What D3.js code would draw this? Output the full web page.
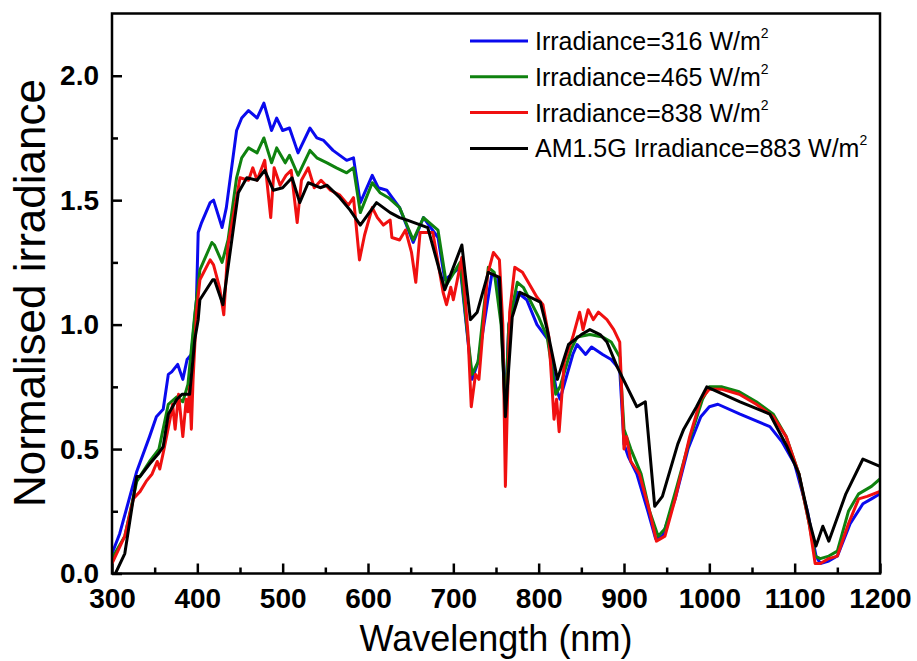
<!DOCTYPE html>
<html>
<head>
<meta charset="utf-8">
<script src="https://cdn.jsdelivr.net/npm/d3@7"></script>
<style>
    body { margin: 0; background: #fff; }
    svg { display: block; font-family: "Liberation Sans", Arial, sans-serif; }
</style>
</head>
<body>
<div id="chart"></div>
<script>
// wavelength (nm), normalised irradiance
let irr316 = [
    [300,0.08],[309,0.16],[329,0.41],[344,0.55],[352,0.63],[360,0.66],[366,0.80],[370,0.81],[377,0.84],
    [383,0.78],[388,0.86],[393,0.88],[399,1.10],[401,1.37],[405,1.41],[415,1.49],[419,1.50],[429,1.39],
    [434,1.47],[446,1.78],[452,1.83],[460,1.86],[470,1.83],[478,1.89],[487,1.78],[493,1.83],[500,1.78],
    [508,1.79],[518,1.69],[532,1.79],[540,1.75],[548,1.74],[559,1.70],[575,1.66],[583,1.67],[591,1.49],
    [605,1.60],[612,1.55],[622,1.54],[637,1.47],[653,1.33],[665,1.43],[682,1.35],[690,1.18],[708,1.23],
    [717,0.94],[722,0.78],[729,0.85],[745,1.20],[752,1.19],[757,1.00],[761,0.65],[765,1.00],[775,1.13],
    [786,1.10],[798,1.00],[811,0.94],[820,0.75],[825,0.70],[840,0.88],[845,0.92],[855,0.88],[862,0.91],
    [875,0.88],[885,0.86],[895,0.82],[900,0.52],[905,0.47],[915,0.40],[928,0.25],[937,0.14],[945,0.15],
    [960,0.30],[975,0.50],[990,0.63],[1000,0.67],[1010,0.68],[1036,0.64],[1071,0.59],[1085,0.53],
    [1100,0.44],[1115,0.25],[1125,0.07],[1130,0.04],[1140,0.05],[1150,0.07],[1165,0.20],[1180,0.28],
    [1190,0.30],[1200,0.32]
];

let irr465 = [
    [300,0.06],[315,0.15],[329,0.37],[344,0.45],[355,0.50],[366,0.68],[376,0.71],[383,0.69],[389,0.76],
    [397,1.04],[403,1.22],[417,1.33],[420,1.32],[429,1.25],[436,1.34],[446,1.59],[452,1.67],[460,1.71],
    [470,1.69],[478,1.75],[487,1.65],[493,1.71],[503,1.65],[508,1.68],[518,1.60],[532,1.70],[540,1.67],
    [552,1.65],[563,1.63],[575,1.61],[583,1.63],[591,1.45],[605,1.57],[614,1.53],[624,1.51],[637,1.47],
    [653,1.34],[665,1.43],[682,1.38],[692,1.16],[708,1.25],[717,0.95],[722,0.80],[729,0.85],[741,1.23],
    [748,1.21],[756,1.00],[761,0.65],[765,1.00],[775,1.17],[782,1.15],[800,1.03],[810,0.95],[820,0.72],
    [825,0.75],[838,0.90],[845,0.95],[860,0.96],[875,0.95],[885,0.93],[895,0.87],[900,0.58],[908,0.50],
    [920,0.40],[930,0.25],[940,0.15],[948,0.18],[962,0.35],[978,0.55],[992,0.70],[1000,0.75],[1015,0.75],
    [1035,0.73],[1055,0.69],[1075,0.64],[1090,0.55],[1105,0.40],[1117,0.20],[1124,0.07],[1130,0.06],
    [1140,0.07],[1150,0.09],[1163,0.25],[1175,0.32],[1180,0.33],[1190,0.35],[1200,0.38]
];

let irr838 = [
    [300,0.04],[315,0.15],[325,0.30],[333,0.33],[340,0.37],[347,0.40],[353,0.45],[356,0.42],[361,0.50],
    [368,0.62],[371,0.68],[374,0.58],[378,0.72],[383,0.55],[387,0.70],[389,0.65],[391,0.75],[393,0.58],
    [395,0.78],[399,1.05],[403,1.18],[415,1.26],[419,1.24],[426,1.15],[431,1.04],[436,1.32],[446,1.51],
    [450,1.59],[460,1.58],[465,1.63],[470,1.58],[479,1.66],[486,1.43],[490,1.63],[497,1.56],[504,1.60],
    [510,1.62],[517,1.41],[522,1.58],[530,1.63],[537,1.55],[545,1.58],[556,1.54],[567,1.52],[577,1.48],
    [583,1.51],[590,1.26],[596,1.36],[605,1.47],[611,1.43],[618,1.40],[626,1.42],[628,1.35],[637,1.34],
    [644,1.38],[651,1.29],[656,1.17],[661,1.37],[676,1.37],[688,1.13],[692,1.08],[697,1.15],[700,1.10],
    [710,1.27],[717,0.97],[721,0.67],[726,0.80],[730,0.78],[740,1.20],[747,1.29],[754,1.26],[758,1.00],
    [761,0.35],[766,1.05],[772,1.23],[781,1.21],[798,1.11],[805,1.08],[812,0.95],[818,0.62],[821,0.70],
    [824,0.57],[830,0.85],[840,0.95],[848,1.05],[852,0.98],[858,1.06],[864,1.02],[870,1.05],[880,1.02],
    [888,0.98],[895,0.93],[900,0.50],[903,0.55],[908,0.45],[918,0.40],[930,0.25],[938,0.13],[948,0.15],
    [960,0.30],[977,0.55],[990,0.70],[1000,0.74],[1015,0.74],[1035,0.72],[1055,0.68],[1075,0.63],
    [1090,0.55],[1105,0.40],[1117,0.20],[1124,0.04],[1130,0.04],[1140,0.06],[1150,0.07],[1163,0.20],
    [1175,0.30],[1185,0.31],[1200,0.33]
];

let am15g = [
    [304,0.00],[315,0.08],[329,0.39],[333,0.39],[344,0.44],[354,0.48],[360,0.51],[366,0.64],[376,0.70],
    [382,0.72],[391,0.72],[397,0.94],[401,1.02],[403,1.10],[418,1.18],[420,1.18],[430,1.08],[448,1.53],
    [458,1.59],[470,1.58],[479,1.62],[489,1.54],[500,1.55],[511,1.59],[520,1.49],[530,1.57],[544,1.55],
    [552,1.56],[567,1.51],[579,1.46],[591,1.40],[610,1.49],[626,1.45],[637,1.43],[646,1.42],[670,1.39],
    [690,1.14],[710,1.32],[720,1.02],[728,1.05],[741,1.21],[754,1.19],[761,0.63],[769,1.03],[778,1.13],
    [802,1.09],[810,0.98],[822,0.78],[835,0.92],[850,0.96],[860,0.98],[872,0.96],[880,0.93],[892,0.83],
    [915,0.67],[925,0.69],[936,0.27],[945,0.31],[963,0.52],[970,0.58],[985,0.67],[997,0.75],[1036,0.69],
    [1071,0.64],[1091,0.51],[1105,0.40],[1118,0.20],[1125,0.11],[1133,0.19],[1140,0.13],[1160,0.32],
    [1180,0.46],[1200,0.43]
];

let seriesNames = ['Irradiance=316 W/m', 'Irradiance=465 W/m', 'Irradiance=838 W/m', 'AM1.5G Irradiance=883 W/m'];
let seriesColors = ['#0a0aee', '#0f820f', '#f01010', '#000000'];
let seriesData = [irr316, irr465, irr838, am15g];

let xMajorTicks = [300, 400, 500, 600, 700, 800, 900, 1000, 1100, 1200];
let xMinorTicks = [350, 450, 550, 650, 750, 850, 950, 1050, 1150];
let yMajorTicks = [0, 0.5, 1.0, 1.5, 2.0];
let yMinorTicks = [0.25, 0.75, 1.25, 1.75];

let width = 917, height = 661;
let plotLeft = 112, plotRight = 880, plotTop = 13.5, plotBottom = 573.5;

let svg = d3.select('#chart').append('svg')
    .attr('width', width)
    .attr('height', height);

let x = d3.scaleLinear().domain([300, 1200]).range([plotLeft, plotRight]);
let y = d3.scaleLinear().domain([0, 2.25]).range([plotBottom, plotTop]);

svg.append('clipPath')
    .attr('id', 'plot-clip')
    .append('rect')
        .attr('x', plotLeft)
        .attr('y', plotTop)
        .attr('width', plotRight - plotLeft)
        .attr('height', plotBottom - plotTop);

// curves
let line = d3.line()
    .x(function(d) { return x(d[0]); })
    .y(function(d) { return y(d[1]); });

svg.append('g')
    .attr('clip-path', 'url(#plot-clip)')
    .selectAll('path')
    .data(seriesData)
    .enter()
    .append('path')
        .attr('d', line)
        .attr('fill', 'none')
        .attr('stroke', function(d, i) { return seriesColors[i]; })
        .attr('stroke-width', 3)
        .attr('stroke-linejoin', 'round');

// axes (ticks point inward)
function styleAxis(g) {
    g.select('.domain').remove();
    g.selectAll('line').attr('stroke', '#000').attr('stroke-width', 2.5);
    g.selectAll('text')
        .attr('fill', '#000')
        .style('font-size', '28px')
        .style('font-weight', 'bold')
        .style('font-family', '"Liberation Sans", Arial, sans-serif');
}

svg.append('g')
    .attr('transform', 'translate(0,' + plotBottom + ')')
    .call(d3.axisBottom(x).tickValues(xMajorTicks).tickSize(-10).tickPadding(15).tickFormat(d3.format('d')))
    .call(styleAxis);

svg.append('g')
    .attr('transform', 'translate(0,' + plotBottom + ')')
    .call(d3.axisBottom(x).tickValues(xMinorTicks).tickSize(-6).tickFormat(''))
    .call(styleAxis);

svg.append('g')
    .attr('transform', 'translate(' + plotLeft + ',0)')
    .call(d3.axisLeft(y).tickValues(yMajorTicks).tickSize(-10).tickPadding(13).tickFormat(d3.format('.1f')))
    .call(styleAxis);

svg.append('g')
    .attr('transform', 'translate(' + plotLeft + ',0)')
    .call(d3.axisLeft(y).tickValues(yMinorTicks).tickSize(-6).tickFormat(''))
    .call(styleAxis);

// frame
svg.append('rect')
    .attr('x', plotLeft)
    .attr('y', plotTop)
    .attr('width', plotRight - plotLeft)
    .attr('height', plotBottom - plotTop)
    .attr('fill', 'none')
    .attr('stroke', '#000')
    .attr('stroke-width', 2.5);

// axis titles
svg.append('text')
    .attr('x', (plotLeft + plotRight) / 2)
    .attr('y', 651)
    .attr('text-anchor', 'middle')
    .style('font-size', '36px')
    .text('Wavelength (nm)');

svg.append('text')
    .attr('transform', 'translate(45,' + 293 + ') rotate(-90)')
    .attr('text-anchor', 'middle')
    .style('font-size', '44px')
    .text('Normalised irradiance');

// legend
let legend = svg.append('g')
    .attr('transform', 'translate(470,41)');

let rows = legend.selectAll('g')
    .data(seriesNames)
    .enter()
    .append('g')
        .attr('transform', function(d, i) { return 'translate(0,' + (i * 35.8) + ')'; });

rows.append('line')
    .attr('x1', 0)
    .attr('x2', 58)
    .attr('stroke', function(d, i) { return seriesColors[i]; })
    .attr('stroke-width', 3);

let labels = rows.append('text')
    .attr('x', 65)
    .attr('y', 9)
    .style('font-size', '25px')
    .text(function(d) { return d; });

labels.append('tspan')
    .attr('dy', -12)
    .style('font-size', '14px')
    .text('2');
</script>
</body>
</html>
